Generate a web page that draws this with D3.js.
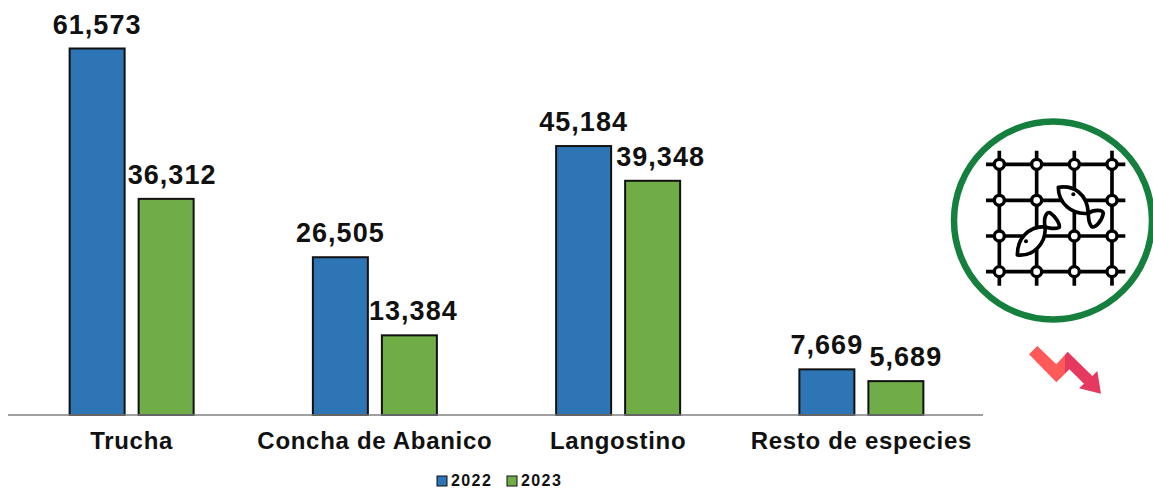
<!DOCTYPE html>
<html>
<head>
<meta charset="utf-8">
<script src="https://cdn.jsdelivr.net/npm/d3@7"></script>
<style>
  html, body { margin: 0; padding: 0; background: #fff; }
  text { font-family: "Liberation Sans", Arial, sans-serif; fill: #111; }
</style>
</head>
<body>
<div id="chart"></div>
<script>
var categories = ["Trucha", "Concha de Abanico", "Langostino", "Resto de especies"];
var years = ["2022", "2023"];
var values2022 = [61573, 26505, 45184, 7669];
var values2023 = [36312, 13384, 39348, 5689];
var yearColors = ["#2e75b6", "#70ad47"];

var W = 1153, H = 489;
var BASE_Y = 415, TOP_Y = 48.5;
var BAR_W = 55, BAR_GAP = 14;

var svg = d3.select("#chart").append("svg")
  .attr("width", W)
  .attr("height", H)
  .style("display", "block");

var x = d3.scaleBand().domain(categories).range([10, 983]);
var y = d3.scaleLinear().domain([0, 61573]).range([BASE_Y, TOP_Y]);
var fmt = d3.format(",");

var series = [values2022, values2023];

// bars and value labels, the 2023 labels sit a bit right of their bar
var labelShift = [[0, 0, 0, 0], [6, 4, 8, 10]];
series.forEach(function(vals, s) {
  var offset = s == 0 ? -BAR_GAP / 2 - BAR_W : BAR_GAP / 2;
  svg.append("g").selectAll("rect")
    .data(vals)
    .join("rect")
    .attr("x", function(d, i) { return x(categories[i]) + x.bandwidth() / 2 + offset; })
    .attr("y", function(d) { return y(d); })
    .attr("width", BAR_W)
    .attr("height", function(d) { return BASE_Y - y(d); })
    .attr("fill", yearColors[s])
    .attr("stroke", "#111")
    .attr("stroke-width", 2);

  svg.append("g").selectAll("text")
    .data(vals)
    .join("text")
    .attr("x", function(d, i) { return x(categories[i]) + x.bandwidth() / 2 + offset + BAR_W / 2 + labelShift[s][i]; })
    .attr("y", function(d) { return y(d) - 15; })
    .attr("text-anchor", "middle")
    .style("font-size", "27px")
    .style("font-weight", "bold")
    .style("letter-spacing", "1px")
    .text(function(d) { return fmt(d); });
});

// category axis
var xAxis = d3.axisBottom(x).tickSize(0).tickPadding(17);
var axisG = svg.append("g")
  .attr("transform", "translate(0," + BASE_Y + ")")
  .call(xAxis);
axisG.select(".domain").attr("d", "M8,0H983").attr("stroke", "#808080").attr("stroke-width", 1.5);
axisG.selectAll("text")
  .style("font-family", '"Liberation Sans", Arial, sans-serif')
  .style("font-size", "24px")
  .style("font-weight", "bold")
  .style("letter-spacing", "0.7px")
  .style("fill", "#111");

// legend
var legend = svg.append("g").attr("transform", "translate(437,476)");
years.forEach(function(yr, i) {
  var g = legend.append("g").attr("transform", "translate(" + (i * 70) + ",0)");
  g.append("rect")
    .attr("width", 10).attr("height", 10)
    .attr("fill", yearColors[i])
    .attr("stroke", "#111").attr("stroke-width", 1);
  g.append("text")
    .attr("x", 14).attr("y", 9.5)
    .style("font-size", "16px")
    .style("font-weight", "bold")
    .style("letter-spacing", "1.4px")
    .text(yr);
});

// fishing net icon, drawn at 3x and scaled down
var circleG = svg.append("g");
circleG.append("circle")
  .attr("cx", 1053).attr("cy", 220.5).attr("r", 99)
  .attr("fill", "#fff").attr("stroke", "#15803d").attr("stroke-width", 6.5);

var icon = svg.append("g").attr("transform", "translate(940,110) scale(0.3333)");
var netX = [178, 290, 403, 516];
var netY = [163, 271, 378, 485];
var ink = "#000";
netX.forEach(function(nx) {
  icon.append("line").attr("x1", nx).attr("x2", nx).attr("y1", 122).attr("y2", 527)
    .attr("stroke", ink).attr("stroke-width", 11);
});
netY.forEach(function(ny) {
  icon.append("line").attr("x1", 138).attr("x2", 556).attr("y1", ny).attr("y2", ny)
    .attr("stroke", ink).attr("stroke-width", 11);
});
netX.forEach(function(nx) {
  netY.forEach(function(ny) {
    icon.append("circle").attr("cx", nx).attr("cy", ny).attr("r", 15)
      .attr("fill", "#fff").attr("stroke", ink).attr("stroke-width", 10);
  });
});
var fishPaths = [
  "M355 232 C400 225 442 250 445 310 C395 315 355 280 355 232 Z",
  "M445 310 C460 298 488 298 490 310 C485 335 465 355 455 350 C446 340 445 325 445 310 Z",
  "M232 435 C232 385 265 350 315 350 C320 400 280 440 232 435 Z",
  "M315 350 C310 322 320 305 330 308 C345 318 360 340 358 352 C345 358 325 355 315 350 Z"
];
fishPaths.forEach(function(d) {
  icon.append("path").attr("d", d)
    .attr("fill", "#fff").attr("stroke", ink).attr("stroke-width", 11).attr("stroke-linejoin", "round");
});
icon.append("circle").attr("cx", 400).attr("cy", 253).attr("r", 6).attr("fill", ink);
icon.append("circle").attr("cx", 258).attr("cy", 394).attr("r", 6).attr("fill", ink);

// falling arrow
var arrow = svg.append("g").attr("transform", "translate(1015,335) scale(0.3333)");
arrow.append("polygon")
  .attr("points", "150,59 158,50 232,123 247,108 258,176 192,160 207,146 163,103 150,116")
  .attr("fill", "#e5395f");
arrow.append("polygon")
  .attr("points", "42,58 67,33 124,88 150,59 150,116 124,142")
  .attr("fill", "#ff5a5a");
</script>
</body>
</html>
